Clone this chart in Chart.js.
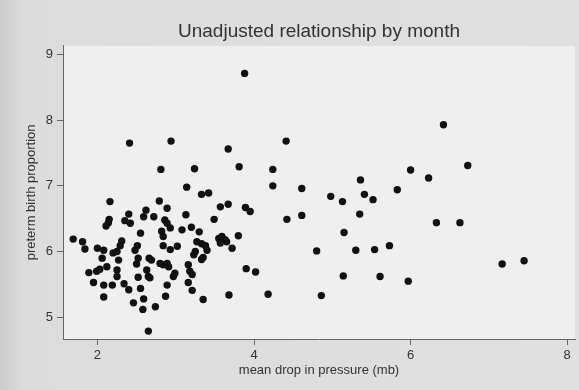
<!DOCTYPE html>
<html>
<head>
<meta charset="utf-8">
<script src="https://cdn.jsdelivr.net/npm/chart.js@4"></script>
<style>
  html, body { margin: 0; padding: 0; background: #dedede; }
  canvas { display: block; }
</style>
</head>
<body>
<canvas id="scatter" width="579" height="390"></canvas>
<script>
// mean drop in pressure (mb) per month
const dropPressure = [2.16, 2.15, 2.14, 2.11, 2.40, 2.35, 2.42, 2.62, 2.59, 2.72, 2.79, 2.89, 2.86, 2.89, 2.93, 2.82, 2.84, 3.14, 3.33, 3.42,
  3.13, 3.08, 3.20, 3.30, 1.69, 1.81, 1.84, 2.00, 2.08, 2.31, 2.29, 2.25, 2.20, 2.55, 2.51, 2.48, 2.84, 2.93, 3.02, 3.27,
  3.33, 3.38, 3.25, 3.23, 3.40, 2.06, 2.27, 2.52, 2.50, 2.66, 2.69, 2.80, 2.84, 2.89, 2.91, 3.35, 3.33, 1.89, 1.99, 2.03,
  2.12, 2.25, 2.25, 2.52, 2.63, 2.65, 2.67, 2.99, 2.97, 3.16, 3.18, 3.21, 1.95, 2.08, 2.19, 2.34, 2.40, 2.55, 2.89, 3.16,
  3.21, 2.08, 2.46, 2.59, 2.58, 2.74, 2.87, 3.35, 2.65,
  2.41, 2.94, 2.81, 3.24,
  3.88, 3.67, 4.41, 3.81, 4.24, 4.24, 4.61, 5.36, 5.83,
  3.57, 3.67, 3.89, 3.95, 3.49, 4.42, 4.61, 4.98, 5.13, 5.41, 5.52, 5.35, 5.15, 3.55, 3.59, 3.63, 3.57, 3.65, 3.80, 3.72,
  4.80, 5.30, 5.54, 5.73, 3.90, 4.02, 5.14, 5.61, 3.68, 4.18, 4.86,
  6.42, 6.73, 6.00, 6.23, 6.33, 6.63, 7.17, 7.45, 5.97];

// preterm birth proportion per month
const pretermProp = [6.76, 6.49, 6.44, 6.39, 6.57, 6.47, 6.43, 6.63, 6.53, 6.53, 6.77, 6.66, 6.48, 6.43, 6.36, 6.31, 6.23, 6.98, 6.87, 6.89,
  6.56, 6.33, 6.37, 6.30, 6.19, 6.15, 6.04, 6.05, 6.02, 6.16, 6.09, 6.00, 5.98, 6.28, 6.09, 6.02, 6.09, 6.03, 6.08, 6.15,
  6.12, 6.09, 6.00, 5.95, 6.02, 5.90, 5.87, 5.90, 5.81, 5.90, 5.87, 5.82, 5.80, 5.82, 5.77, 5.91, 5.88, 5.68, 5.70, 5.73,
  5.77, 5.72, 5.62, 5.61, 5.72, 5.62, 5.60, 5.67, 5.62, 5.80, 5.70, 5.65, 5.53, 5.49, 5.49, 5.51, 5.42, 5.44, 5.49, 5.53,
  5.41, 5.31, 5.22, 5.28, 5.12, 5.16, 5.32, 5.27, 4.79,
  7.65, 7.68, 7.25, 7.26,
  8.71, 7.56, 7.68, 7.29, 7.25, 7.00, 6.96, 7.09, 6.94,
  6.68, 6.72, 6.67, 6.61, 6.49, 6.49, 6.55, 6.84, 6.76, 6.87, 6.79, 6.57, 6.29, 6.20, 6.23, 6.18, 6.13, 6.15, 6.24, 6.05,
  6.01, 6.02, 6.03, 6.09, 5.74, 5.69, 5.63, 5.62, 5.34, 5.35, 5.33,
  7.93, 7.31, 7.24, 7.12, 6.44, 6.44, 5.81, 5.86, 5.55];

const xTicks = [2, 4, 6, 8];
const yTicks = [5, 6, 7, 8, 9];

const points = dropPressure.map((x, i) => ({ x: x, y: pretermProp[i] }));

// grey page and lighter plot region, like the stata graph
const backdrop = {
  id: "backdrop",
  beforeDraw(chart) {
    const { ctx, chartArea, width, height } = chart;
    ctx.save();
    const g = ctx.createLinearGradient(0, 0, width, 0);
    g.addColorStop(0, "#cdcdcd");
    g.addColorStop(0.04, "#dcdcdc");
    g.addColorStop(1, "#e0e0e0");
    ctx.fillStyle = g;
    ctx.fillRect(0, 0, width, height);
    ctx.fillStyle = "#efefef";
    ctx.fillRect(chartArea.left, chartArea.top, chartArea.right - chartArea.left, chartArea.bottom - chartArea.top);
    ctx.restore();
  }
};

const font = "Liberation Sans, Arial, sans-serif";

new Chart(document.getElementById("scatter").getContext("2d"), {
  type: "scatter",
  data: {
    datasets: [{
      data: points,
      backgroundColor: "#111111",
      borderWidth: 0,
      pointRadius: 3.7,
      pointHoverRadius: 3.7
    }]
  },
  options: {
    responsive: false,
    animation: false,
    layout: { padding: { left: 0, right: 4, top: 0, bottom: 0 } },
    plugins: {
      legend: { display: false },
      tooltip: { enabled: false },
      title: {
        display: true,
        text: "Unadjusted relationship by month",
        fullSize: false,
        color: "#333333",
        font: { family: font, size: 19, weight: "normal" },
        padding: { top: 20, bottom: 3 }
      }
    },
    scales: {
      x: {
        type: "linear",
        min: 1.56,
        max: 8.1,
        afterBuildTicks: (scale) => { scale.ticks = xTicks.map(v => ({ value: v })); },
        afterFit: (scale) => { scale.height = 51; },
        grid: { drawOnChartArea: false, tickLength: 6, color: "#666666" },
        border: { display: true, color: "#666666", width: 1 },
        ticks: { color: "#333333", padding: 3, font: { family: font, size: 13 } },
        title: {
          display: true,
          text: "mean drop in pressure (mb)",
          color: "#333333",
          font: { family: font, size: 13 },
          padding: { top: 0, bottom: 12 }
        }
      },
      y: {
        type: "linear",
        min: 4.67,
        max: 9.13,
        afterBuildTicks: (scale) => { scale.ticks = yTicks.map(v => ({ value: v })); },
        afterFit: (scale) => { scale.width = 63; },
        grid: { drawOnChartArea: false, tickLength: 6, color: "#666666" },
        border: { display: true, color: "#666666", width: 1 },
        ticks: { color: "#333333", padding: 4, font: { family: font, size: 13 } },
        title: {
          display: true,
          text: "preterm birth proportion",
          color: "#333333",
          font: { family: font, size: 13 },
          padding: { top: 24, bottom: 0 }
        }
      }
    }
  },
  plugins: [backdrop]
});
</script>
</body>
</html>
